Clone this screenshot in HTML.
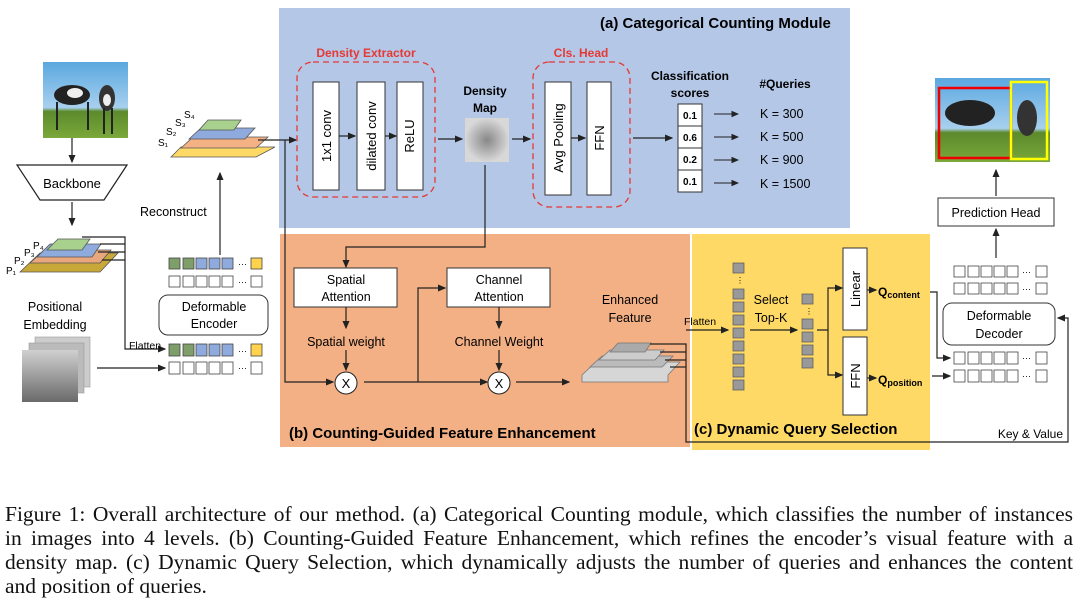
<!DOCTYPE html>
<html><head><meta charset="utf-8"><style>
body{margin:0;background:#fff;width:1080px;height:605px;overflow:hidden}
svg text{font-family:"Liberation Sans",sans-serif}
.cap{position:absolute;left:5px;top:502px;width:1068px;font-family:"Liberation Serif",serif;font-size:21.5px;line-height:24px;color:#111;white-space:nowrap}
.cap span{display:block;text-align:justify;text-align-last:justify;white-space:normal}
.cap span.l{text-align-last:left}
</style></head><body>
<svg width="1080" height="500" style="position:absolute;left:0;top:0" xmlns="http://www.w3.org/2000/svg">
<defs><marker id="a" markerWidth="7" markerHeight="7" refX="6" refY="3.5" orient="auto"><path d="M0,0.5L7,3.5L0,6.5z" fill="#222"/></marker>
<linearGradient id="g" x1="0" y1="0" x2="0" y2="1"><stop offset="0" stop-color="#d0d0d0"/><stop offset="1" stop-color="#6a6a6a"/></linearGradient>
<radialGradient id="dm"><stop offset="0" stop-color="#888"/><stop offset="1" stop-color="#d8d8d8"/></radialGradient>
<linearGradient id="sky" x1="0" y1="0" x2="0" y2="1"><stop offset="0" stop-color="#5aa8e0"/><stop offset="0.6" stop-color="#a8d0ee"/><stop offset="0.65" stop-color="#5c8a2c"/><stop offset="1" stop-color="#7aa83a"/></linearGradient></defs>
<g fill="none" stroke="#222" stroke-width="1.2">
<rect x="279" y="8" width="571" height="220" fill="#b4c7e7" stroke="none"/>
<rect x="280" y="234" width="410" height="213" fill="#f3b084" stroke="none"/>
<rect x="692" y="234" width="238" height="216" fill="#ffd966" stroke="none"/>
</g>
<text x="600" y="28" font-size="15" font-weight="bold">(a) Categorical Counting Module</text>
<text x="289" y="438" font-size="15" font-weight="bold">(b) Counting-Guided Feature Enhancement</text>
<text x="694" y="434" font-size="15" font-weight="bold">(c) Dynamic Query Selection</text>

<rect x="43" y="62" width="85" height="76" fill="url(#sky)"/>
<ellipse cx="72" cy="95" rx="18" ry="10" fill="#222"/><ellipse cx="75" cy="93" rx="8" ry="5" fill="#eee"/>
<ellipse cx="107" cy="98" rx="8" ry="13" fill="#333"/><ellipse cx="107" cy="100" rx="4" ry="6" fill="#eee"/>
<line x1="57" y1="102" x2="57" y2="130" stroke="#222" stroke-width="2"/><line x1="88" y1="102" x2="88" y2="130" stroke="#222" stroke-width="2"/><line x1="104" y1="108" x2="104" y2="134" stroke="#222" stroke-width="2"/><line x1="112" y1="108" x2="112" y2="134" stroke="#222" stroke-width="2"/>
<g stroke="#222" stroke-width="1.2" fill="none">
<line x1="72" y1="138" x2="72" y2="162" marker-end="url(#a)"/>
<path d="M17,165H127L104,200H40Z" fill="#fff"/>
<line x1="72" y1="202" x2="72" y2="225" marker-end="url(#a)"/>
</g>
<text x="72" y="188" font-size="13" text-anchor="middle">Backbone</text>
<g stroke="#555" stroke-width="0.8">
<path d="M20,272L40,253H118L100,272Z" fill="#c9a83a"/>
<path d="M30,263L44,250H111L100,263Z" fill="#e8a77d"/>
<path d="M37,257L50,244H101L92,257Z" fill="#8faadc"/>
<path d="M47,250L58,239H90L82,250Z" fill="#a9d18e"/>
</g>
<g font-size="10"><text x="33" y="249">P₄</text><text x="24" y="256">P₃</text><text x="14" y="264">P₂</text><text x="6" y="274">P₁</text></g>
<g stroke="#222" stroke-width="1.2" fill="none">
<path d="M82,237H125V349H165" marker-end="url(#a)"/>
<line x1="100" y1="244" x2="125" y2="244"/><line x1="98" y1="252" x2="125" y2="252"/><line x1="102" y1="260" x2="125" y2="260"/>
<line x1="97" y1="368" x2="165" y2="368" marker-end="url(#a)"/>
</g>
<text x="55" y="311" font-size="12.5" text-anchor="middle">Positional</text>
<text x="55" y="329" font-size="12.5" text-anchor="middle">Embedding</text>
<rect x="35" y="337" width="55" height="50" fill="#ccc" stroke="#999" stroke-width="0.6"/>
<rect x="29" y="343" width="55" height="50" fill="#bbb" stroke="#999" stroke-width="0.6"/>
<rect x="22" y="350" width="56" height="52" fill="url(#g)"/>
<text x="129" y="349" font-size="10.5">Flatten</text>
<g stroke="#444" stroke-width="0.8">
<rect x="169" y="258" width="11" height="11" fill="#7f9f6a"/><rect x="183" y="258" width="11" height="11" fill="#7f9f6a"/><rect x="196" y="258" width="11" height="11" fill="#8faadc"/><rect x="209" y="258" width="11" height="11" fill="#8faadc"/><rect x="222" y="258" width="11" height="11" fill="#8faadc"/><rect x="251" y="258" width="11" height="11" fill="#ffd34d"/>
<rect x="169" y="276" width="11" height="11" fill="#fff"/><rect x="183" y="276" width="11" height="11" fill="#fff"/><rect x="196" y="276" width="11" height="11" fill="#fff"/><rect x="209" y="276" width="11" height="11" fill="#fff"/><rect x="222" y="276" width="11" height="11" fill="#fff"/><rect x="251" y="276" width="11" height="11" fill="#fff"/>
<rect x="169" y="344" width="11" height="12" fill="#7f9f6a"/><rect x="183" y="344" width="11" height="12" fill="#7f9f6a"/><rect x="196" y="344" width="11" height="12" fill="#8faadc"/><rect x="209" y="344" width="11" height="12" fill="#8faadc"/><rect x="222" y="344" width="11" height="12" fill="#8faadc"/><rect x="251" y="344" width="11" height="12" fill="#ffd34d"/>
<rect x="169" y="362" width="11" height="12" fill="#fff"/><rect x="183" y="362" width="11" height="12" fill="#fff"/><rect x="196" y="362" width="11" height="12" fill="#fff"/><rect x="209" y="362" width="11" height="12" fill="#fff"/><rect x="222" y="362" width="11" height="12" fill="#fff"/><rect x="251" y="362" width="11" height="12" fill="#fff"/>
</g>
<g font-size="9"><text x="238" y="267">···</text><text x="238" y="285">···</text><text x="238" y="354">···</text><text x="238" y="371">···</text></g>
<rect x="159" y="295" width="109" height="40" rx="9" fill="#fff" stroke="#333" stroke-width="1"/>
<text x="214" y="311" font-size="12.5" text-anchor="middle">Deformable</text>
<text x="214" y="328" font-size="12.5" text-anchor="middle">Encoder</text>
<line x1="220" y1="255" x2="220" y2="173" stroke="#222" stroke-width="1.2" marker-end="url(#a)"/>
<text x="140" y="216" font-size="12.5">Reconstruct</text>
<g stroke="#555" stroke-width="0.8">
<path d="M171,157L181,147H275L256,157Z" fill="#ffd966"/>
<path d="M181,148L193,137H268L256,148Z" fill="#f4b183"/>
<path d="M189,139L201,128H255L245,139Z" fill="#8faadc"/>
<path d="M199,130L208,120H241L234,130Z" fill="#a9d18e"/>
</g>
<g font-size="10"><text x="184" y="118">S₄</text><text x="175" y="126">S₃</text><text x="166" y="135">S₂</text><text x="158" y="146">S₁</text></g>
<g stroke="#222" stroke-width="1.2" fill="none">
<line x1="258" y1="140" x2="296" y2="140" marker-end="url(#a)"/>
<path d="M285,140V382H333" marker-end="url(#a)"/>
</g>
<rect x="297" y="62" width="138" height="135" rx="16" fill="none" stroke="#e53935" stroke-width="1.3" stroke-dasharray="6,4"/>
<text x="366" y="57" font-size="12" font-weight="bold" fill="#e53935" text-anchor="middle">Density Extractor</text>
<g fill="#fff" stroke="#333" stroke-width="1"><rect x="313" y="82" width="26" height="108"/><rect x="357" y="82" width="28" height="108"/><rect x="397" y="82" width="26" height="108"/></g>
<g font-size="13"><text transform="translate(331,136) rotate(-90)" text-anchor="middle">1x1 conv</text><text transform="translate(376,136) rotate(-90)" text-anchor="middle">dilated conv</text><text transform="translate(414,136) rotate(-90)" text-anchor="middle">ReLU</text></g>
<g stroke="#222" stroke-width="1.2"><line x1="339" y1="136" x2="355" y2="136" marker-end="url(#a)"/><line x1="385" y1="136" x2="396" y2="136" marker-end="url(#a)"/><line x1="438" y1="139" x2="462" y2="139" marker-end="url(#a)"/><line x1="512" y1="139" x2="530" y2="139" marker-end="url(#a)"/></g>
<text x="485" y="95" font-size="12" font-weight="bold" text-anchor="middle">Density</text>
<text x="485" y="112" font-size="12" font-weight="bold" text-anchor="middle">Map</text>
<rect x="465" y="118" width="44" height="44" fill="url(#dm)"/>
<rect x="533" y="62" width="97" height="145" rx="16" fill="none" stroke="#e53935" stroke-width="1.3" stroke-dasharray="6,4"/>
<text x="581" y="57" font-size="12" font-weight="bold" fill="#e53935" text-anchor="middle">Cls. Head</text>
<g fill="#fff" stroke="#333" stroke-width="1"><rect x="545" y="82" width="26" height="113"/><rect x="587" y="82" width="24" height="113"/></g>
<g font-size="13"><text transform="translate(563,138) rotate(-90)" text-anchor="middle">Avg Pooling</text><text transform="translate(604,138) rotate(-90)" text-anchor="middle">FFN</text></g>
<g stroke="#222" stroke-width="1.2"><line x1="571" y1="138" x2="585" y2="138" marker-end="url(#a)"/><line x1="633" y1="138" x2="672" y2="138" marker-end="url(#a)"/></g>
<text x="690" y="80" font-size="12" font-weight="bold" text-anchor="middle">Classification</text>
<text x="690" y="97" font-size="12" font-weight="bold" text-anchor="middle">scores</text>
<text x="785" y="88" font-size="12" font-weight="bold" text-anchor="middle">#Queries</text>
<g fill="#fff" stroke="#333" stroke-width="1"><rect x="678" y="104" width="24" height="22"/><rect x="678" y="126" width="24" height="22"/><rect x="678" y="148" width="24" height="22"/><rect x="678" y="170" width="24" height="22"/></g>
<g font-size="10" font-weight="bold" text-anchor="middle"><text x="690" y="119">0.1</text><text x="690" y="141">0.6</text><text x="690" y="163">0.2</text><text x="690" y="185">0.1</text></g>
<g stroke="#222" stroke-width="1.1"><line x1="714" y1="114" x2="738" y2="114" marker-end="url(#a)"/><line x1="714" y1="137" x2="738" y2="137" marker-end="url(#a)"/><line x1="714" y1="160" x2="738" y2="160" marker-end="url(#a)"/><line x1="714" y1="183" x2="738" y2="183" marker-end="url(#a)"/></g>
<g font-size="12.5"><text x="760" y="118">K = 300</text><text x="760" y="141">K = 500</text><text x="760" y="164">K = 900</text><text x="760" y="188">K = 1500</text></g>
<g stroke="#222" stroke-width="1.2" fill="none">
<path d="M485,165V247H346V267" marker-end="url(#a)"/>
<line x1="346" y1="307" x2="346" y2="328" marker-end="url(#a)"/>
<line x1="346" y1="350" x2="346" y2="370" marker-end="url(#a)"/>
<line x1="499" y1="307" x2="499" y2="328" marker-end="url(#a)"/>
<line x1="499" y1="350" x2="499" y2="370" marker-end="url(#a)"/>
<path d="M364,382H487" marker-end="url(#a)"/>
<path d="M418,382V288H445" marker-end="url(#a)"/>
<line x1="516" y1="382" x2="569" y2="382" marker-end="url(#a)"/>
</g>
<rect x="294" y="268" width="103" height="39" fill="#fff" stroke="#333"/>
<rect x="447" y="268" width="103" height="39" fill="#fff" stroke="#333"/>
<g font-size="12.5" text-anchor="middle"><text x="346" y="284">Spatial</text><text x="346" y="301">Attention</text><text x="499" y="284">Channel</text><text x="499" y="301">Attention</text>
<text x="346" y="346">Spatial weight</text><text x="499" y="346">Channel Weight</text><text x="630" y="304">Enhanced</text><text x="630" y="322">Feature</text></g>
<circle cx="346" cy="383" r="11" fill="#fff" stroke="#222"/><circle cx="499" cy="383" r="11" fill="#fff" stroke="#222"/>
<text x="346" y="388" font-size="13" text-anchor="middle">X</text><text x="499" y="388" font-size="13" text-anchor="middle">X</text>
<g stroke="#777" stroke-width="0.8">
<path d="M582,375L596,362H680L668,375V382H582Z" fill="#d6d6d6"/>
<path d="M590,367L602,356H673L662,367Z" fill="#bbb"/>
<path d="M599,360L610,350H664L655,360Z" fill="#ccc"/>
<path d="M610,352L618,343H651L645,352Z" fill="#aaa"/>
</g>
<g stroke="#222" stroke-width="1.2" fill="none">
<path d="M650,344H686V442H1068V318H1058" marker-end="url(#a)"/>
<line x1="660" y1="352" x2="686" y2="352"/><line x1="665" y1="360" x2="686" y2="360"/><line x1="670" y1="367" x2="686" y2="367"/>
<line x1="686" y1="330" x2="728" y2="330" marker-end="url(#a)"/>
<line x1="750" y1="330" x2="797" y2="330" marker-end="url(#a)"/>
<path d="M817,330H828V288H842" marker-end="url(#a)"/>
<path d="M828,330V375H842" marker-end="url(#a)"/>
<line x1="867" y1="290" x2="876" y2="290" marker-end="url(#a)"/>
<line x1="867" y1="378" x2="876" y2="378" marker-end="url(#a)"/>
<path d="M930,292H937V358H950" marker-end="url(#a)"/>
<line x1="932" y1="376" x2="950" y2="376" marker-end="url(#a)"/>
</g>
<text x="684" y="325" font-size="10.5">Flatten</text>
<g fill="#999" stroke="#555" stroke-width="0.7">
<rect x="733" y="263" width="11" height="10"/><rect x="733" y="289" width="11" height="10"/><rect x="733" y="302" width="11" height="10"/><rect x="733" y="315" width="11" height="10"/><rect x="733" y="328" width="11" height="10"/><rect x="733" y="341" width="11" height="10"/><rect x="733" y="354" width="11" height="10"/><rect x="733" y="367" width="11" height="10"/><rect x="733" y="380" width="11" height="10"/>
<rect x="802" y="294" width="11" height="10"/><rect x="802" y="319" width="11" height="10"/><rect x="802" y="332" width="11" height="10"/><rect x="802" y="345" width="11" height="10"/><rect x="802" y="358" width="11" height="10"/>
</g>
<text x="736" y="283" font-size="8">⋮</text><text x="805" y="314" font-size="8">⋮</text>
<text x="771" y="304" font-size="12.5" text-anchor="middle">Select</text><text x="771" y="322" font-size="12.5" text-anchor="middle">Top-K</text>
<rect x="843" y="248" width="24" height="82" fill="#fff" stroke="#333"/><rect x="843" y="337" width="24" height="78" fill="#fff" stroke="#333"/>
<text transform="translate(860,289) rotate(-90)" font-size="13" text-anchor="middle">Linear</text>
<text transform="translate(860,376) rotate(-90)" font-size="13" text-anchor="middle">FFN</text>
<text x="878" y="296" font-size="12" font-weight="bold">Q<tspan font-size="9" dy="2">content</tspan></text>
<text x="878" y="384" font-size="12" font-weight="bold">Q<tspan font-size="9" dy="2">position</tspan></text>
<g fill="#fff" stroke="#444" stroke-width="0.8">
<rect x="954" y="266" width="11" height="11"/><rect x="968" y="266" width="11" height="11"/><rect x="981" y="266" width="11" height="11"/><rect x="994" y="266" width="11" height="11"/><rect x="1007" y="266" width="11" height="11"/><rect x="1036" y="266" width="11" height="11"/>
<rect x="954" y="283" width="11" height="11"/><rect x="968" y="283" width="11" height="11"/><rect x="981" y="283" width="11" height="11"/><rect x="994" y="283" width="11" height="11"/><rect x="1007" y="283" width="11" height="11"/><rect x="1036" y="283" width="11" height="11"/>
<rect x="954" y="352" width="11" height="12"/><rect x="968" y="352" width="11" height="12"/><rect x="981" y="352" width="11" height="12"/><rect x="994" y="352" width="11" height="12"/><rect x="1007" y="352" width="11" height="12"/><rect x="1036" y="352" width="11" height="12"/>
<rect x="954" y="370" width="11" height="12"/><rect x="968" y="370" width="11" height="12"/><rect x="981" y="370" width="11" height="12"/><rect x="994" y="370" width="11" height="12"/><rect x="1007" y="370" width="11" height="12"/><rect x="1036" y="370" width="11" height="12"/>
</g>
<g font-size="9"><text x="1022" y="275">···</text><text x="1022" y="292">···</text><text x="1022" y="361">···</text><text x="1022" y="379">···</text></g>
<rect x="943" y="303" width="112" height="42" rx="9" fill="#fff" stroke="#333"/>
<text x="999" y="320" font-size="12.5" text-anchor="middle">Deformable</text><text x="999" y="338" font-size="12.5" text-anchor="middle">Decoder</text>
<text x="1063" y="438" font-size="12" text-anchor="end">Key &amp; Value</text>
<line x1="996" y1="258" x2="996" y2="229" stroke="#222" stroke-width="1.2" marker-end="url(#a)"/>
<rect x="938" y="198" width="116" height="28" fill="#fff" stroke="#333"/>
<text x="996" y="217" font-size="12.5" text-anchor="middle">Prediction Head</text>
<line x1="996" y1="196" x2="996" y2="170" stroke="#222" stroke-width="1.2" marker-end="url(#a)"/>
<rect x="935" y="78" width="115" height="84" fill="url(#sky)"/>
<ellipse cx="970" cy="113" rx="25" ry="13" fill="#222"/><ellipse cx="1027" cy="118" rx="10" ry="18" fill="#333"/>
<rect x="939" y="88" width="72" height="70" fill="none" stroke="#e00" stroke-width="2.5"/>
<rect x="1011" y="82" width="36" height="77" fill="none" stroke="#ff0" stroke-width="2.5"/>
</svg>
<div class="cap"><span>Figure 1: Overall architecture of our method. (a) Categorical Counting module, which classifies the number of instances</span><span>in images into 4 levels. (b) Counting-Guided Feature Enhancement, which refines the encoder’s visual feature with a</span><span>density map. (c) Dynamic Query Selection, which dynamically adjusts the number of queries and enhances the content</span><span class="l">and position of queries.</span></div>
</body></html>
